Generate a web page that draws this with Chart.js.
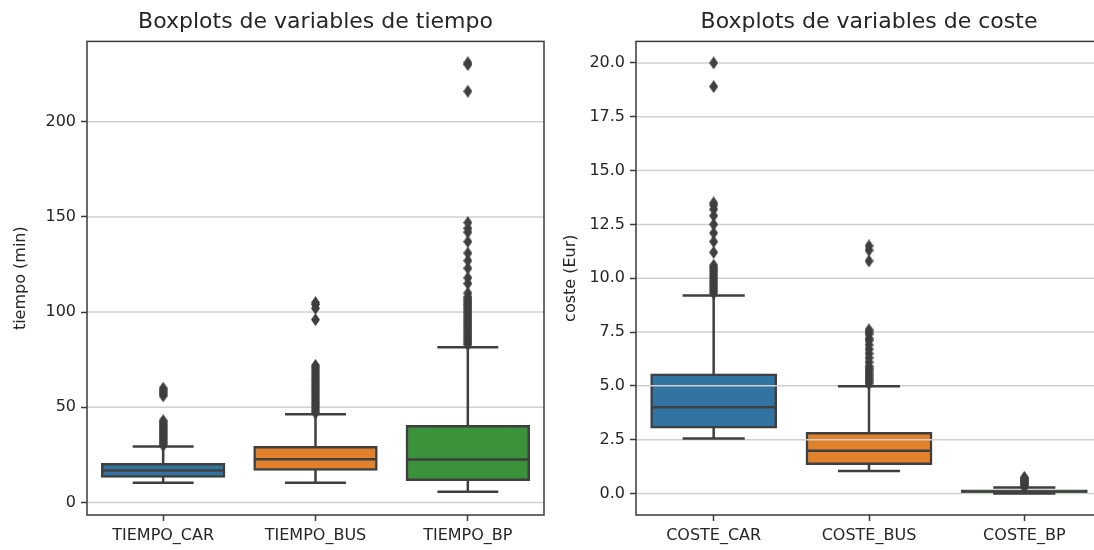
<!DOCTYPE html>
<html>
<head>
<meta charset="utf-8">
<script src="https://cdn.jsdelivr.net/npm/chart.js@4.4.1/dist/chart.umd.min.js"></script>
<style>
  html, body { margin: 0; padding: 0; background: #fff; overflow: hidden; width: 1094px; height: 550px; }
  #tiempo { position: absolute; left: 0; top: 0; }
  #coste { position: absolute; left: 550px; top: 0; }
</style>
</head>
<body>
<canvas id="tiempo" width="550" height="550"></canvas>
<canvas id="coste" width="560" height="550"></canvas>
<script>
// ---- Tiempo (minutes) ----
const tiempoCategories = ['TIEMPO_CAR', 'TIEMPO_BUS', 'TIEMPO_BP'];
const tiempoWhiskerLow = [10.3, 10.3, 5.6];
const tiempoQ1 = [13.6, 17.3, 11.9];
const tiempoMedian = [16.8, 22.7, 22.6];
const tiempoQ3 = [20.0, 29.0, 40.0];
const tiempoWhiskerHigh = [29.4, 46.3, 81.5];
const tiempoCarOutliers = [30, 31, 32, 33, 34, 35, 36, 37, 38, 39, 40, 41, 42, 43, 56, 57, 58, 59, 60];
const tiempoBusOutliers = [47, 48, 49, 50, 51, 52, 53, 54, 55, 56, 57, 58, 59, 60, 61, 62, 63, 64, 65, 66, 67, 68, 69, 70, 71, 72, 96, 102, 104, 105];
const tiempoBpOutliers = [83, 84, 85, 86, 87, 88, 89, 90, 91, 92, 93, 94, 95, 96, 97, 98, 99, 100, 101, 102, 103, 104, 105, 106, 107, 108, 110, 115, 118, 123, 127, 131, 137, 142, 144, 147, 216, 230, 231];
const tiempoTicks = [0, 50, 100, 150, 200];

// ---- Coste (Eur) ----
const costeCategories = ['COSTE_CAR', 'COSTE_BUS', 'COSTE_BP'];
const costeWhiskerLow = [2.55, 1.04, 0.0];
const costeQ1 = [3.08, 1.38, 0.05];
const costeMedian = [4.0, 1.99, 0.09];
const costeQ3 = [5.52, 2.8, 0.13];
const costeWhiskerHigh = [9.2, 4.98, 0.28];
const costeCarOutliers = [9.3, 9.4, 9.5, 9.6, 9.7, 9.8, 9.9, 10.0, 10.1, 10.2, 10.3, 10.4, 10.5, 10.6, 11.2, 11.7, 12.1, 12.5, 12.9, 13.2, 13.4, 13.5, 18.9, 20.0];
const costeBusOutliers = [5.1, 5.2, 5.3, 5.4, 5.5, 5.6, 5.7, 5.8, 5.9, 6.1, 6.3, 6.5, 6.7, 6.9, 7.1, 7.2, 7.4, 7.5, 7.6, 10.8, 11.3, 11.5];
const costeBpOutliers = [0.3, 0.35, 0.4, 0.45, 0.5, 0.55, 0.6, 0.65, 0.7, 0.75];
const costeTicks = [0, 2.5, 5, 7.5, 10, 12.5, 15, 17.5, 20];

const boxColors = ['#3274a1', '#e1812c', '#3a923a'];

const LINE = '#3f3f3f';
const GRID = '#d0d0d0';
const SPINE = '#3a3a3a';
const TEXT = '#262626';
const FONT = 'DejaVu Sans';
const LW = 2.5;

// thin diamond used for the fliers
function makeDiamond(w, h, color) {
  const c = document.createElement('canvas');
  c.width = w; c.height = h;
  const g = c.getContext('2d');
  g.fillStyle = color;
  g.beginPath();
  g.moveTo(w / 2, 0); g.lineTo(w, h / 2); g.lineTo(w / 2, h); g.lineTo(0, h / 2);
  g.closePath(); g.fill();
  return c;
}
const flierMark = makeDiamond(9, 13, LINE);

// horizontal grid drawn right after the boxes, under whiskers, medians and fliers
const gridAndFrame = {
  id: 'gridAndFrame',
  afterDatasetDraw(chart, args) {
    if (args.index !== 0) return;
    const { ctx, chartArea: a } = chart;
    const ys = chart.scales.y;
    ctx.save();
    ctx.strokeStyle = GRID;
    ctx.lineWidth = 1.5;
    ys.ticks.forEach(t => {
      const y = ys.getPixelForValue(t.value);
      ctx.beginPath(); ctx.moveTo(a.left, y); ctx.lineTo(a.right, y); ctx.stroke();
    });
    ctx.restore();
  },
  afterDraw(chart) {
    const { ctx, chartArea: a } = chart;
    ctx.save();
    ctx.strokeStyle = SPINE;
    ctx.lineWidth = 1.5;
    ctx.strokeRect(a.left, a.top, a.right - a.left, a.bottom - a.top);
    ctx.restore();
  }
};

function makeBoxChart(id, cfg) {
  const n = cfg.categories.length;
  const boxes = cfg.categories.map((c, i) => ({ x: i, y: [cfg.q1[i], cfg.q3[i]] }));
  const whiskers = [];
  const medians = [];
  const fliers = [];
  for (let i = 0; i < n; i++) {
    whiskers.push({ x: i, y: cfg.lo[i] }, { x: i, y: cfg.q1[i] }, { x: i, y: null });
    whiskers.push({ x: i, y: cfg.q3[i] }, { x: i, y: cfg.hi[i] }, { x: i, y: null });
    whiskers.push({ x: i - 0.2, y: cfg.lo[i] }, { x: i + 0.2, y: cfg.lo[i] }, { x: i, y: null });
    whiskers.push({ x: i - 0.2, y: cfg.hi[i] }, { x: i + 0.2, y: cfg.hi[i] }, { x: i, y: null });
    medians.push({ x: i - 0.4, y: cfg.med[i] }, { x: i + 0.4, y: cfg.med[i] }, { x: i, y: null });
    cfg.outliers[i].forEach(v => fliers.push({ x: i, y: v }));
  }

  return new Chart(document.getElementById(id), {
    data: {
      datasets: [
        {
          type: 'bar', data: boxes, order: 5,
          backgroundColor: boxColors, borderColor: LINE, borderWidth: LW,
          borderSkipped: false, inflateAmount: LW / 2,
          barPercentage: 0.8, categoryPercentage: 1.0, grouped: false
        },
        {
          type: 'line', data: whiskers, order: 4,
          borderColor: LINE, borderWidth: LW, pointRadius: 0, spanGaps: false,
          borderCapStyle: 'butt', tension: 0
        },
        {
          type: 'line', data: medians, order: 3,
          borderColor: LINE, borderWidth: LW, pointRadius: 0, spanGaps: false,
          borderCapStyle: 'butt', tension: 0
        },
        {
          type: 'scatter', data: fliers, order: 1,
          pointStyle: flierMark, pointRadius: 5, showLine: false
        }
      ]
    },
    options: {
      responsive: false,
      animation: false,
      events: [],
      layout: { padding: { left: 0, right: cfg.padRight, top: 0, bottom: 0 } },
      plugins: {
        legend: { display: false },
        tooltip: { enabled: false },
        title: {
          display: true, text: cfg.title, fullSize: false, color: TEXT,
          font: { family: FONT, size: 22, weight: 'normal' },
          padding: { top: 9, bottom: 6 }
        }
      },
      scales: {
        x: {
          type: 'linear', min: -0.5, max: n - 0.5, offset: false,
          afterBuildTicks: s => { s.ticks = cfg.categories.map((c, i) => ({ value: i })); },
          afterFit: s => { s.height = 35; },
          ticks: {
            callback: v => cfg.categories[v],
            color: TEXT, font: { family: FONT, size: 16 }, padding: 5,
            maxRotation: 0, autoSkip: false
          },
          grid: { offset: false, drawOnChartArea: false, drawTicks: true, tickLength: 6, tickWidth: 1.5, tickColor: SPINE },
          border: { display: false }
        },
        y: {
          type: 'linear', min: cfg.yMin, max: cfg.yMax,
          afterBuildTicks: s => { s.ticks = cfg.ticks.map(v => ({ value: v })); },
          afterFit: s => { s.width = cfg.yWidth; },
          ticks: {
            callback: cfg.tickFormat,
            color: TEXT, font: { family: FONT, size: 16 }, padding: 5
          },
          grid: { drawOnChartArea: false, drawTicks: true, tickLength: 6, tickWidth: 1.5, tickColor: SPINE },
          border: { display: false },
          title: {
            display: true, text: cfg.ylabel, color: TEXT,
            font: { family: FONT, size: 16 }, padding: { top: 11, bottom: 0 }
          }
        }
      }
    },
    plugins: [gridAndFrame]
  });
}

makeBoxChart('tiempo', {
  categories: tiempoCategories,
  lo: tiempoWhiskerLow, q1: tiempoQ1, med: tiempoMedian, q3: tiempoQ3, hi: tiempoWhiskerHigh,
  outliers: [tiempoCarOutliers, tiempoBusOutliers, tiempoBpOutliers],
  ticks: tiempoTicks, tickFormat: v => String(v),
  yMin: -6.6, yMax: 242.2,
  title: 'Boxplots de variables de tiempo', ylabel: 'tiempo (min)',
  yWidth: 87, padRight: 0
});

makeBoxChart('coste', {
  categories: costeCategories,
  lo: costeWhiskerLow, q1: costeQ1, med: costeMedian, q3: costeQ3, hi: costeWhiskerHigh,
  outliers: [costeCarOutliers, costeBusOutliers, costeBpOutliers],
  ticks: costeTicks, tickFormat: v => v.toFixed(1),
  yMin: -1.0, yMax: 21.0,
  title: 'Boxplots de variables de coste', ylabel: 'coste (Eur)',
  yWidth: 86, padRight: 8
});
</script>
</body>
</html>
